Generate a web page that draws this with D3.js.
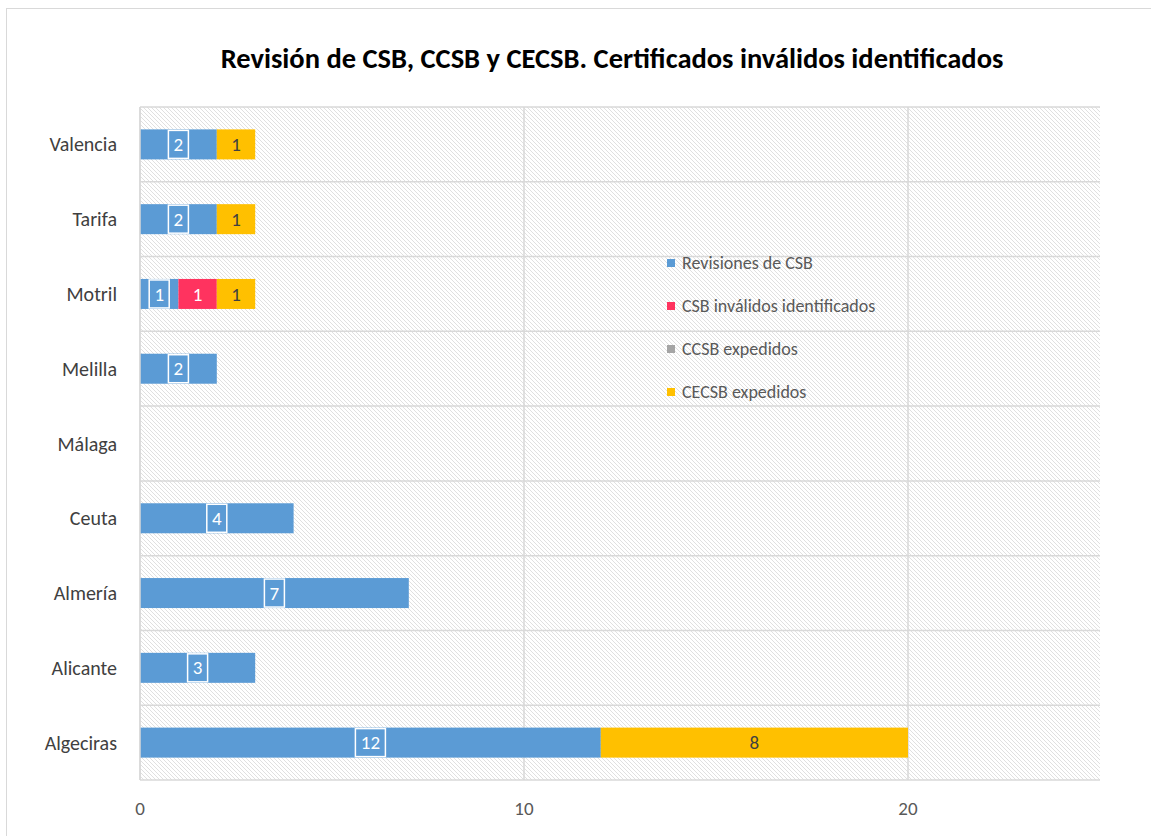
<!DOCTYPE html>
<html>
<head>
<meta charset="utf-8">
<script src="https://cdn.jsdelivr.net/npm/d3@7"></script>
<style>
  body { margin: 0; background: #fff; }
  text { font-family: Calibri, Carlito, "Open Sans", "Noto Sans", sans-serif; }
</style>
</head>
<body>
<svg id="chart" width="1151" height="836"></svg>
<script>
// categories, bottom to top
const ports = ["Algeciras", "Alicante", "Almería", "Ceuta", "Málaga", "Melilla", "Motril", "Tarifa", "Valencia"];
const revisiones = [12, 3, 7, 4, 0, 2, 1, 2, 2];
const invalidos = [0, 0, 0, 0, 0, 0, 1, 0, 0];
const ccsb = [0, 0, 0, 0, 0, 0, 0, 0, 0];
const cecsb = [8, 0, 0, 0, 0, 0, 1, 1, 1];
const seriesNames = ["Revisiones de CSB", "CSB inválidos identificados", "CCSB expedidos", "CECSB expedidos"];
const seriesColors = ["#5B9BD5", "#FF335F", "#A5A5A5", "#FFC000"];
const xTicks = [0, 10, 20];

const svg = d3.select("#chart");
const margin = {left: 140, right: 51, top: 107, bottom: 56};
const W = 1151, H = 836;

// hatch pattern for the plot background
const defs = svg.append("defs");
const pat = defs.append("pattern")
    .attr("id", "hatch")
    .attr("patternUnits", "userSpaceOnUse")
    .attr("width", 4).attr("height", 4);
pat.append("rect").attr("width", 4).attr("height", 4).attr("fill", "#fff");
pat.append("path")
    .attr("d", "M-1,-1 L5,5 M3,-1 L5,1 M-1,3 L1,5")
    .attr("stroke", "#e0e0e0").attr("stroke-width", 1);

// outer chart frame
svg.append("rect")
    .attr("x", 6.5).attr("y", 8.5)
    .attr("width", 1160).attr("height", 860)
    .attr("fill", "#fff").attr("stroke", "#d9d9d9").attr("stroke-width", 1);

const x = d3.scaleLinear().domain([0, 25]).range([margin.left, W - margin.right]);
const y = d3.scaleBand().domain(ports.slice().reverse())
    .range([margin.top, H - margin.bottom]).paddingInner(0.6).paddingOuter(0.3);

svg.append("rect")
    .attr("x", x(0)).attr("y", margin.top)
    .attr("width", x(25) - x(0)).attr("height", H - margin.bottom - margin.top)
    .attr("fill", "url(#hatch)");

// horizontal separators
const seps = d3.range(ports.length + 1).map(i => margin.top + (H - margin.bottom - margin.top) * i / ports.length);
svg.append("g").selectAll("line").data(seps).enter().append("line")
    .attr("x1", x(0)).attr("x2", x(25))
    .attr("y1", d => d).attr("y2", d => d)
    .attr("stroke", "#d9d9d9").attr("stroke-width", 1.5);

// vertical gridlines
svg.append("g").selectAll("line").data(xTicks).enter().append("line")
    .attr("x1", d => x(d)).attr("x2", d => x(d))
    .attr("y1", margin.top).attr("y2", H - margin.bottom)
    .attr("stroke", "#d9d9d9").attr("stroke-width", 1.5);

// stacked bars
const rows = ports.map((p, i) => ({port: p, vals: [revisiones[i], invalidos[i], ccsb[i], cecsb[i]]}));
const segs = [];
rows.forEach(r => {
    let acc = 0;
    r.vals.forEach((v, k) => {
        if (v > 0) segs.push({port: r.port, k: k, v: v, x0: acc, x1: acc + v});
        acc += v;
    });
});

const bh = 30;
const rowY = p => y(p) + y.bandwidth() / 2;

svg.append("g").selectAll("rect").data(segs).enter().append("rect")
    .attr("x", d => x(d.x0)).attr("width", d => x(d.x1) - x(d.x0))
    .attr("y", d => rowY(d.port) - bh / 2).attr("height", bh)
    .attr("fill", d => seriesColors[d.k]);

// data labels
const lab = svg.append("g").selectAll("g").data(segs).enter().append("g")
    .attr("transform", d => "translate(" + x((d.x0 + d.x1) / 2) + "," + rowY(d.port) + ")");
lab.filter(d => d.k === 0).append("rect")
    .attr("x", d => d.v >= 10 ? -15 : -10).attr("y", -14)
    .attr("width", d => d.v >= 10 ? 30 : 20).attr("height", 28)
    .attr("fill", seriesColors[0]).attr("stroke", "#fff").attr("stroke-width", 1.5);
lab.append("text")
    .attr("text-anchor", "middle").attr("dy", "0.35em")
    .attr("font-size", 19)
    .attr("fill", d => d.k === 3 ? "#404040" : "#fff")
    .text(d => d.v);

// category labels
svg.append("g").selectAll("text").data(ports).enter().append("text")
    .attr("x", 117).attr("y", d => rowY(d)).attr("dy", "0.35em")
    .attr("text-anchor", "end").attr("font-size", 20).attr("fill", "#404040")
    .text(d => d);

// left axis line
svg.append("line")
    .attr("x1", x(0)).attr("x2", x(0))
    .attr("y1", margin.top).attr("y2", H - margin.bottom)
    .attr("stroke", "#d9d9d9").attr("stroke-width", 1.5);

// x tick labels
svg.append("g").selectAll("text").data(xTicks).enter().append("text")
    .attr("x", d => x(d)).attr("y", 808).attr("dy", "0.35em")
    .attr("text-anchor", "middle").attr("font-size", 19).attr("fill", "#595959")
    .text(d => d);

// legend
const leg = svg.append("g").selectAll("g").data(seriesNames).enter().append("g")
    .attr("transform", (d, i) => "translate(667," + (263 + i * 43) + ")");
leg.append("rect").attr("x", 0).attr("y", -4).attr("width", 8).attr("height", 8)
    .attr("fill", (d, i) => seriesColors[i]);
leg.append("text").attr("x", 15).attr("dy", "0.35em")
    .attr("font-size", 18).attr("fill", "#595959")
    .text(d => d);

// title
svg.append("text")
    .attr("x", 612).attr("y", 58).attr("dy", "0.35em")
    .attr("text-anchor", "middle").attr("font-size", 28.5).attr("font-weight", "bold")
    .attr("fill", "#000")
    .text("Revisión de CSB, CCSB y CECSB. Certificados inválidos identificados");
</script>
</body>
</html>
